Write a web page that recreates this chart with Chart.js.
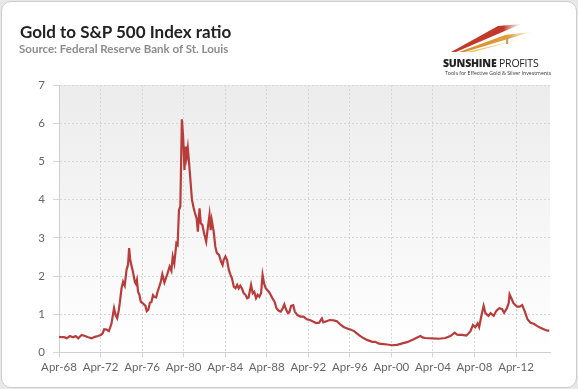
<!DOCTYPE html>
<html>
<head>
<meta charset="utf-8">
<script src="https://cdn.jsdelivr.net/npm/chart.js@4/dist/chart.umd.min.js"></script>
<style>
  html, body { margin: 0; padding: 0; background: #e8e8e8; width: 578px; height: 389px; overflow: hidden; }
  #card { position: absolute; left: 1px; top: 1px; width: 574px; height: 385px; background: #fff;
          border: 1px solid #cdcdcd; border-radius: 10px; }
  #chart { position: absolute; left: 0; top: 0; }
  #title { position: absolute; left: 20px; top: 21px; font: bold 17px Lato, sans-serif; color: #222; }
  #source { position: absolute; left: 19px; top: 42px; font: bold 11.5px Lato, sans-serif; color: #8c8c8c; }
  #logo { position: absolute; left: 443px; top: 20px; width: 110px; height: 56px; }
  #logo svg { position: absolute; left: 0; top: 0; }
  #brand { position: absolute; left: 0; top: 36px; font: 10.5px "Open Sans", sans-serif; color: #222; white-space: nowrap; letter-spacing: -0.2px; }
  #brand b { font-weight: 800; }
  #tag { position: absolute; left: 2px; top: 49px; font: 5.2px "Open Sans", sans-serif; color: #333; white-space: nowrap; }
</style>
</head>
<body>
<div id="card"></div>
<canvas id="chart" width="578" height="389"></canvas>
<div id="title">Gold to S&amp;P 500 Index ratio</div>
<div id="source">Source: Federal Reserve Bank of St. Louis</div>
<div id="logo">
  <svg width="110" height="40" viewBox="0 0 110 40">
    <defs>
      <linearGradient id="gr" x1="0" x2="1"><stop offset="0" stop-color="#c0392b"/><stop offset="0.75" stop-color="#c0392b"/><stop offset="1" stop-color="#f3c8b8" stop-opacity="0.3"/></linearGradient>
      <linearGradient id="go" x1="0" x2="1"><stop offset="0" stop-color="#d98a2b"/><stop offset="0.7" stop-color="#e0a040"/><stop offset="1" stop-color="#f5dcb0" stop-opacity="0.3"/></linearGradient>
      <linearGradient id="gy" x1="0" x2="1"><stop offset="0" stop-color="#e8c050"/><stop offset="0.55" stop-color="#f0d070"/><stop offset="1" stop-color="#fff" stop-opacity="0"/></linearGradient>
    </defs>
    <polygon points="8,32 55,6 78,4 13,32" fill="url(#gr)"/>
    <polygon points="16,32 62,15 88,12 22,32" fill="url(#go)"/>
    <polygon points="24,32 66,22 104,12 30,32" fill="url(#gy)"/>
    <polygon points="63,17 65.5,17 65,24 63,24" fill="#c9a060"/>
  </svg>
  <div id="brand"><b>SUNSHINE</b> PROFITS</div>
  <div id="tag">Tools for Effective Gold &amp; Silver Investments</div>
</div>
<script>
// Ratio or prix de l'or / S&P 500, x en années décimales
const years = [
  1968.25, 1968.5, 1968.75, 1969.0, 1969.3, 1969.6, 1969.85, 1970.1, 1970.43, 1970.75,
  1971.06, 1971.4, 1971.7, 1972.0, 1972.28, 1972.45, 1972.6, 1972.83, 1973.05, 1973.3,
  1973.45, 1973.55, 1973.7, 1973.85, 1974.0, 1974.1, 1974.27, 1974.42, 1974.58, 1974.75,
  1974.9, 1975.0, 1975.1, 1975.2, 1975.38, 1975.55, 1975.65, 1975.75, 1975.86, 1976.0,
  1976.12, 1976.35, 1976.57, 1976.7, 1976.85, 1977.0, 1977.15, 1977.3, 1977.45, 1977.6,
  1977.75, 1977.9, 1978.05, 1978.2, 1978.4, 1978.55, 1978.7, 1978.9, 1979.07, 1979.2,
  1979.35, 1979.55, 1979.67, 1979.8, 1979.93, 1980.08, 1980.2, 1980.33, 1980.45, 1980.55,
  1980.65, 1980.75, 1980.9, 1981.05, 1981.2, 1981.35, 1981.5, 1981.62, 1981.78, 1981.9,
  1982.05, 1982.25, 1982.42, 1982.55, 1982.74, 1982.85, 1982.95, 1983.14, 1983.3, 1983.45,
  1983.65, 1983.85, 1984.0, 1984.1, 1984.27, 1984.43, 1984.6, 1984.76, 1984.9, 1985.08,
  1985.24, 1985.4, 1985.55, 1985.7, 1985.85, 1986.04, 1986.2, 1986.36, 1986.5, 1986.74,
  1986.9, 1987.05, 1987.22, 1987.38, 1987.54, 1987.7, 1987.85, 1988.0, 1988.15, 1988.5,
  1988.8, 1989.0, 1989.2, 1989.4, 1989.6, 1989.78, 1989.94, 1990.1, 1990.3, 1990.42,
  1990.6, 1990.8, 1990.95, 1991.2, 1991.5, 1991.8, 1992.1, 1992.4, 1992.7, 1993.0,
  1993.3, 1993.56, 1993.7, 1994.0, 1994.3, 1994.7, 1995.0, 1995.38, 1995.7, 1996.0,
  1996.3, 1996.66, 1996.98, 1997.3, 1997.6, 1997.9, 1998.4, 1998.7, 1999.05, 1999.5,
  1999.85, 2000.3, 2000.8, 2001.3, 2001.76, 2002.25, 2002.73, 2003.05, 2003.3, 2003.53,
  2004.17, 2004.8, 2005.45, 2005.93, 2006.35, 2006.55, 2006.73, 2007.05, 2007.47, 2007.85,
  2008.1, 2008.33, 2008.55, 2008.7, 2008.9, 2009.13, 2009.3, 2009.6, 2009.8, 2010.1,
  2010.35, 2010.64, 2010.9, 2011.1, 2011.37, 2011.54, 2011.63, 2011.8, 2012.0, 2012.35,
  2012.6, 2012.84, 2013.1, 2013.35, 2013.65, 2013.95, 2014.3, 2014.6, 2014.92, 2015.25,
  2015.45
];
const ratio = [
  0.41, 0.40, 0.40, 0.37, 0.43, 0.40, 0.43, 0.37, 0.46, 0.43,
  0.40, 0.37, 0.41, 0.43, 0.46, 0.50, 0.61, 0.60, 0.56, 0.75,
  1.00, 1.16, 0.98, 0.90, 1.10, 1.29, 1.68, 1.85, 1.75, 2.16,
  2.30, 2.73, 2.45, 2.30, 2.10, 1.85, 1.80, 1.90, 1.59, 1.50,
  1.33, 1.28, 1.22, 1.08, 1.12, 1.30, 1.32, 1.50, 1.45, 1.44,
  1.60, 1.72, 1.85, 2.05, 1.83, 1.95, 2.07, 2.25, 2.14, 2.51,
  2.33, 2.86, 2.82, 3.73, 3.82, 6.10, 5.65, 4.78, 5.39, 5.13,
  5.35, 5.04, 4.52, 4.00, 3.80, 3.64, 3.51, 3.16, 3.77, 3.38,
  3.34, 3.08, 2.90, 3.20, 3.60, 3.20, 3.47, 3.17, 2.77, 2.60,
  2.56, 2.38, 2.29, 2.42, 2.51, 2.42, 2.16, 2.03, 1.94, 1.72,
  1.68, 1.77, 1.68, 1.75, 1.68, 1.55, 1.51, 1.42, 1.44, 1.77,
  1.55, 1.59, 1.42, 1.51, 1.46, 1.55, 2.03, 1.80, 1.68, 1.57,
  1.42, 1.33, 1.15, 1.09, 1.07, 1.15, 1.26, 1.13, 1.03, 1.05,
  1.22, 1.24, 1.07, 0.98, 0.94, 0.94, 0.87, 0.85, 0.81, 0.77,
  0.78, 0.89, 0.79, 0.82, 0.85, 0.84, 0.82, 0.72, 0.66, 0.63,
  0.60, 0.56, 0.49, 0.42, 0.37, 0.33, 0.28, 0.28, 0.23, 0.22,
  0.21, 0.19, 0.20, 0.24, 0.27, 0.33, 0.39, 0.43, 0.39, 0.38,
  0.37, 0.36, 0.38, 0.43, 0.52, 0.47, 0.46, 0.46, 0.44, 0.55,
  0.72, 0.66, 0.76, 0.66, 0.94, 1.22, 1.03, 0.96, 1.03, 0.96,
  1.09, 1.16, 1.14, 1.04, 1.16, 1.29, 1.52, 1.42, 1.29, 1.20,
  1.20, 1.24, 1.07, 0.87, 0.78, 0.75, 0.69, 0.65, 0.61, 0.57,
  0.57
];
const tickYears = [1968.25, 1972.25, 1976.25, 1980.25, 1984.25, 1988.25, 1992.25, 1996.25, 2000.25, 2004.25, 2008.25, 2012.25];
const tickLabels = ['Apr-68', 'Apr-72', 'Apr-76', 'Apr-80', 'Apr-84', 'Apr-88', 'Apr-92', 'Apr-96', 'Apr-00', 'Apr-04', 'Apr-08', 'Apr-12'];

// fond dégradé de la zone de tracé
const plotBg = {
  id: 'plotBg',
  beforeDraw(chart) {
    const { ctx, chartArea: a } = chart;
    const g = ctx.createLinearGradient(0, a.top, 0, a.bottom);
    g.addColorStop(0, '#ececec');
    g.addColorStop(1, '#ffffff');
    ctx.save();
    ctx.fillStyle = g;
    ctx.fillRect(a.left, a.top, a.width, a.height);
    ctx.restore();
  }
};

const ctx = document.getElementById('chart').getContext('2d');
const chart = new Chart(ctx, {
  type: 'line',
  data: {
    datasets: [{
      data: years.map((x, i) => ({ x: x, y: ratio[i] })),
      borderColor: '#b83c3a',
      borderWidth: 2.2,
      pointRadius: 0,
      fill: false,
      tension: 0
    }]
  },
  options: {
    responsive: false,
    animation: false,
    layout: { padding: { top: 85, right: 28, left: 0, bottom: 0 } },
    plugins: { legend: { display: false }, tooltip: { enabled: false } },
    scales: {
      x: {
        type: 'linear',
        min: 1968.25,
        max: 2015.52,
        afterBuildTicks: s => { s.ticks = tickYears.map(v => ({ value: v })); },
        afterFit: s => { s.height = 36.5; },
        ticks: {
          callback: (v, i) => tickLabels[i],
          color: '#666',
          font: { family: 'Lato', size: 11.5 },
          padding: 3,
          maxRotation: 0,
          autoSkip: false
        },
        grid: { color: '#d6d6d6', tickLength: 5 },
        border: { color: '#cfcfcf', dash: [2, 2] }
      },
      y: {
        min: 0,
        max: 7,
        afterFit: s => { s.width = 59; },
        ticks: {
          stepSize: 1,
          color: '#666',
          font: { family: 'Lato', size: 11.5 },
          padding: 8
        },
        grid: { color: '#d6d6d6', tickLength: 6 },
        border: { color: '#cfcfcf', dash: [2, 2] }
      }
    }
  },
  plugins: [plotBg]
});
</script>
</body>
</html>
